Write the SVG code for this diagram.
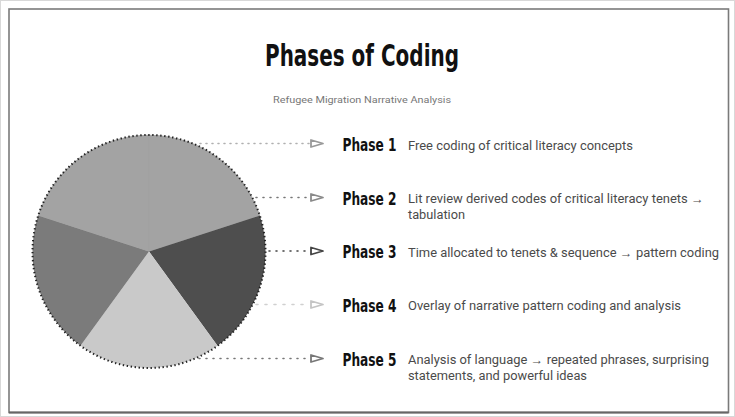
<svg xmlns="http://www.w3.org/2000/svg" width="735" height="417" viewBox="0 0 735 417">
  <style>
    .title { font-family: "DejaVu Sans Condensed", "DejaVu Sans", sans-serif; font-weight: bold; font-size: 31px; fill: #111; }
    .sub { font-family: Roboto, "Liberation Sans", sans-serif; font-size: 8.5px; fill: #777; }
    .lbl { font-family: "DejaVu Sans Condensed", "DejaVu Sans", sans-serif; font-weight: bold; font-size: 18px; fill: #111; }
    .desc { font-family: Roboto, "Liberation Sans", sans-serif; font-size: 12px; fill: #4a4a4a; }
    .arrow { fill: #fff; stroke-width: 1.8; stroke-linejoin: round; }
    .conn { fill: none; stroke-width: 1.6; stroke-linecap: round; }
  </style>
  <rect x="0.5" y="0.5" width="734" height="416" fill="#fff" stroke="#d8d8d8" stroke-width="1"/>
  <rect x="9" y="9" width="719.5" height="403.5" fill="#fff" stroke="#7a7a7a" stroke-width="1.6"/>
  <line x1="9" y1="412.5" x2="728.5" y2="412.5" stroke="#666" stroke-width="2.2"/>

  <text class="title" x="362" y="66" text-anchor="middle" textLength="194" lengthAdjust="spacingAndGlyphs">Phases of Coding</text>
  <text class="sub" x="362" y="103" text-anchor="middle" textLength="178" lengthAdjust="spacingAndGlyphs">Refugee Migration Narrative Analysis</text>

  <g id="pie">
    <g id="slice1"><path d="M149,251.5 L38.2,215.5 A116.5,116.5 0 0 1 149,135 Z" fill="#a3a3a3" stroke="#a3a3a3" stroke-width="0.6"/></g>
    <g id="slice2"><path d="M149,251.5 L149,135 A116.5,116.5 0 0 1 259.8,215.5 Z" fill="#a3a3a3" stroke="#a3a3a3" stroke-width="0.6"/></g>
    <g id="slice3"><path d="M149,251.5 L259.8,215.5 A116.5,116.5 0 0 1 217.5,345.8 Z" fill="#4e4e4e"/></g>
    <g id="slice4"><path d="M149,251.5 L217.5,345.8 A116.5,116.5 0 0 1 80.5,345.8 Z" fill="#c9c9c9"/></g>
    <g id="slice5"><path d="M149,251.5 L80.5,345.8 A116.5,116.5 0 0 1 38.2,215.5 Z" fill="#7b7b7b"/></g>
    <circle cx="149" cy="251.5" r="116.5" fill="none" stroke="#222" stroke-width="2" stroke-dasharray="1.4 2.6"/>
  </g>

  <g id="connectors">
    <line class="conn" x1="200" y1="143.5" x2="309" y2="143.5" stroke="#b0b0b0" stroke-dasharray="1 5"/>
    <polygon class="arrow" points="311,140 323,143.5 311,147" stroke="#999"/>
    <line class="conn" x1="256" y1="197.5" x2="309" y2="197.5" stroke="#777" stroke-dasharray="1 6"/>
    <polygon class="arrow" points="311,194 323,197.5 311,201" stroke="#8a8a8a"/>
    <line class="conn" x1="269" y1="251" x2="309" y2="251" stroke="#444" stroke-dasharray="1 6"/>
    <polygon class="arrow" points="311,247.5 323,251 311,254.5" stroke="#444"/>
    <line class="conn" x1="256" y1="304.5" x2="309" y2="304.5" stroke="#d0d0d0" stroke-dasharray="2 7"/>
    <polygon class="arrow" points="311,301 323,304.5 311,308" stroke="#c4c4c4"/>
    <line class="conn" x1="199" y1="358.5" x2="309" y2="358.5" stroke="#777" stroke-dasharray="1 6"/>
    <polygon class="arrow" points="311,355 323,358.5 311,362" stroke="#777"/>
  </g>

  <g id="phase1">
    <text class="lbl" x="342.5" y="150.5" textLength="54" lengthAdjust="spacingAndGlyphs">Phase 1</text>
    <text class="desc" x="408" y="149.5" textLength="225" lengthAdjust="spacingAndGlyphs">Free coding of critical literacy concepts</text>
  </g>
  <g id="phase2">
    <text class="lbl" x="342.5" y="204.5" textLength="54" lengthAdjust="spacingAndGlyphs">Phase 2</text>
    <text class="desc" x="408" y="203" textLength="296" lengthAdjust="spacingAndGlyphs">Lit review derived codes of critical literacy tenets →</text>
    <text class="desc" x="408" y="219" textLength="57" lengthAdjust="spacingAndGlyphs">tabulation</text>
  </g>
  <g id="phase3">
    <text class="lbl" x="342.5" y="258" textLength="54" lengthAdjust="spacingAndGlyphs">Phase 3</text>
    <text class="desc" x="408" y="256.5" textLength="311" lengthAdjust="spacingAndGlyphs">Time allocated to tenets &amp; sequence → pattern coding</text>
  </g>
  <g id="phase4">
    <text class="lbl" x="342.5" y="311.5" textLength="54" lengthAdjust="spacingAndGlyphs">Phase 4</text>
    <text class="desc" x="408" y="310" textLength="273" lengthAdjust="spacingAndGlyphs">Overlay of narrative pattern coding and analysis</text>
  </g>
  <g id="phase5">
    <text class="lbl" x="342.5" y="365.5" textLength="54" lengthAdjust="spacingAndGlyphs">Phase 5</text>
    <text class="desc" x="408" y="364" textLength="301" lengthAdjust="spacingAndGlyphs">Analysis of language → repeated phrases, surprising</text>
    <text class="desc" x="408" y="380" textLength="179" lengthAdjust="spacingAndGlyphs">statements, and powerful ideas</text>
  </g>
</svg>
